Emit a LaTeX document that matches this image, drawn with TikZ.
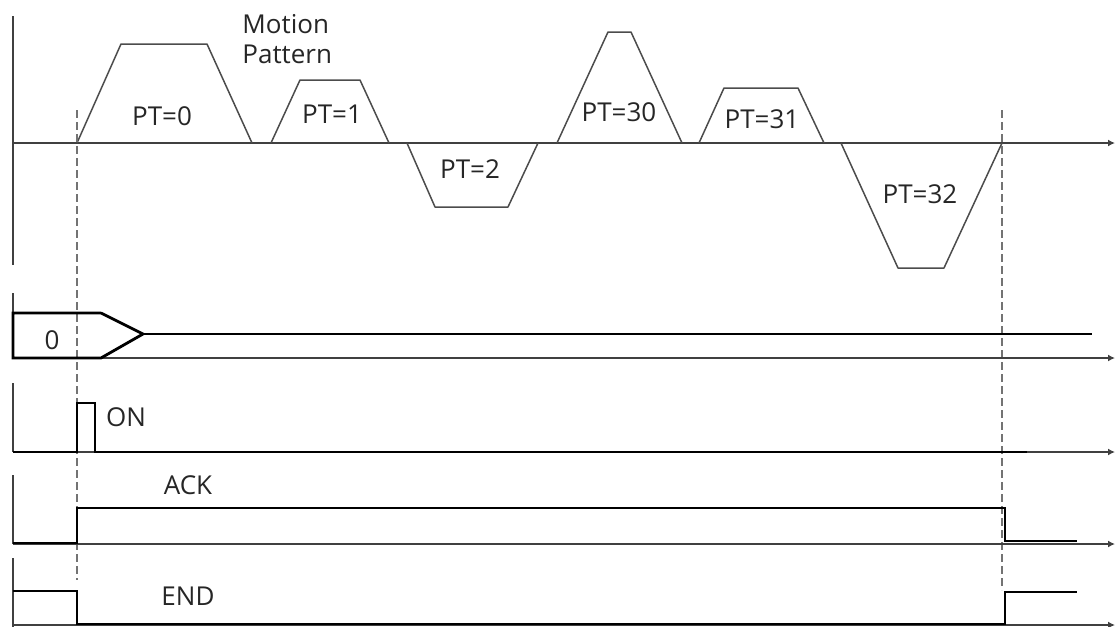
\documentclass[tikz,border=0pt]{standalone}
\usepackage{fontspec}
\setmainfont{Open Sans}
\usetikzlibrary{arrows.meta}

\begin{document}
\begin{tikzpicture}[x=0.5pt, y=-0.5pt,
        axis/.style={draw=black!75, line width=0.9pt},
        timeaxis/.style={axis, -{Latex[length=3.5pt,width=3.5pt]}},
        profile/.style={draw=black!70, line width=0.75pt, line join=round},
        signal/.style={draw=black, line width=1.4pt, line join=miter},
        guide/.style={draw=black!55, line width=0.7pt, dash pattern=on 4pt off 2pt},
        lbl/.style={font=\fontsize{13}{15}\selectfont, text=black!85, inner sep=0pt}]
    \useasboundingbox (0,0) rectangle (1116,627);

    % motion pattern
    \draw[axis] (13,16) -- (13,265);
    \draw[timeaxis] (13,143) -- (1115,143);

    \draw[profile] (77,143) -- (121,44) -- (207,44) -- (252,143);
    \draw[profile] (271,143) -- (300,80) -- (360,80) -- (389,143);
    \draw[profile] (407,143) -- (435,207) -- (508,207) -- (538,143);
    \draw[profile] (557,143) -- (608,32) -- (631,32) -- (682,143);
    \draw[profile] (699,143) -- (724,88) -- (798,88) -- (824,143);
    \draw[profile] (841,143) -- (898,268) -- (944,268) -- (1002,143);

    \node[lbl, anchor=base west] (motion) at (242,33) {Motion};
    \node[lbl, anchor=base west] (pattern) at (242,63) {Pattern};
    \node[lbl] (pt0) at (162,116) {PT=0};
    \node[lbl] (pt1) at (332,114) {PT=1};
    \node[lbl] (pt2) at (470,169) {PT=2};
    \node[lbl] (pt30) at (619,112) {PT=30};
    \node[lbl] (pt31) at (762,119) {PT=31};
    \node[lbl] (pt32) at (920,194) {PT=32};

    % start / end guides
    \draw[guide] (77,110) -- (77,580);
    \draw[guide] (1002,110) -- (1002,590);

    % pattern number
    \draw[axis] (13,293) -- (13,358);
    \draw[timeaxis] (13,358) -- (1115,358);
    \draw[signal] (101,313) -- (13,313) -- (13,358) -- (101,358) -- (143,334) -- (101,313);
    \draw[signal] (143,334) -- (1092,334);
    \node[lbl] (num) at (52,340) {0};

    % start
    \draw[axis] (13,383) -- (13,452);
    \draw[timeaxis] (13,452) -- (1115,452);
    \draw[signal] (13,452) -- (77,452) -- (77,403) -- (95,403) -- (95,452) -- (1027,452);
    \node[lbl] (on) at (126,417) {ON};

    % acknowledge
    \draw[axis] (13,475) -- (13,544);
    \draw[timeaxis] (13,544) -- (1115,544);
    \draw[signal] (13,543) -- (77,543) -- (77,508) -- (1005,508) -- (1005,541) -- (1077,541);
    \node[lbl] (ack) at (188,485) {ACK};

    % end
    \draw[axis] (13,558) -- (13,627);
    \draw[timeaxis] (13,625) -- (1115,625);
    \draw[signal] (13,591) -- (77,591) -- (77,624) -- (1005,624) -- (1005,592) -- (1077,592);
    \node[lbl] (fin) at (188,596) {END};
\end{tikzpicture}
\end{document}
